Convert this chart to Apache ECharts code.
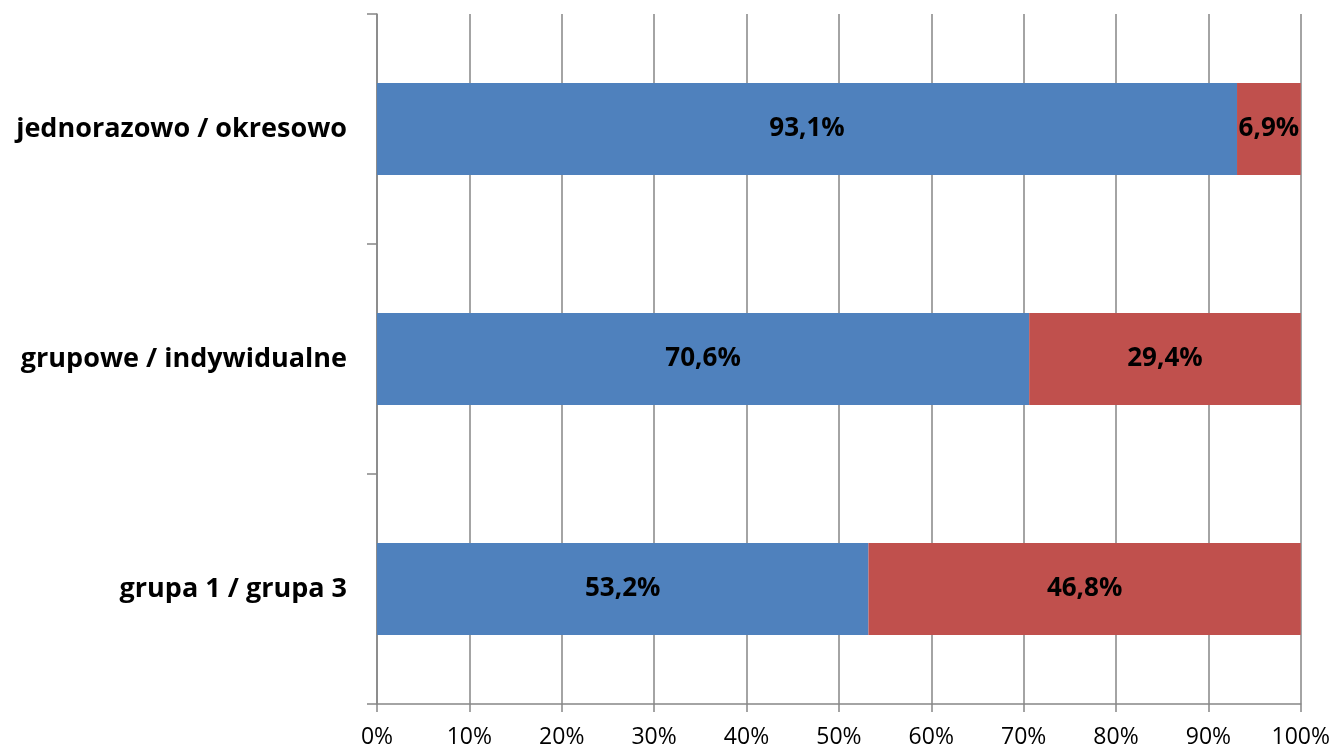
<!DOCTYPE html>
<html>
<head>
<meta charset="utf-8">
<script src="https://cdn.jsdelivr.net/npm/echarts@6/dist/echarts.min.js"></script>
<style>html,body{margin:0;padding:0;background:#fff}#c{width:1333px;height:749px}</style>
</head>
<body>
<div id="c"></div>
<script>
const categories = ['grupa 1 / grupa 3', 'grupowe / indywidualne', 'jednorazowo / okresowo'];
const seriesA = [53.2, 70.6, 93.1];
const seriesB = [46.8, 29.4, 6.9];
const xTicks = [0, 10, 20, 30, 40, 50, 60, 70, 80, 90, 100];

const FONT = '"Open Sans", "Noto Sans", sans-serif';
const chart = echarts.init(document.getElementById('c'));
const labelCfg = {
  show: true,
  position: 'inside',
  color: '#000',
  fontFamily: FONT,
  fontWeight: 'bold',
  fontSize: 26,
  formatter: p => p.value.toFixed(1).replace('.', ',') + '%'
};
chart.setOption({
  animation: false,
  grid: { left: 377, right: 32, top: 14, bottom: 44, containLabel: false },
  xAxis: {
    type: 'value', min: 0, max: 100, interval: 10,
    axisLine: { show: true, lineStyle: { color: '#868686', width: 1.5 } },
    axisTick: { show: true, length: 8, lineStyle: { color: '#868686', width: 1.5 } },
    splitLine: { show: true, lineStyle: { color: '#868686', width: 1.5 } },
    axisLabel: { color: '#000', fontFamily: FONT, fontSize: 23, margin: 22,
      formatter: v => xTicks.includes(v) ? v + '%' : '' }
  },
  yAxis: {
    type: 'category', data: categories,
    axisLine: { show: true, lineStyle: { color: '#868686', width: 1.5 } },
    axisTick: { show: true, length: 10, lineStyle: { color: '#868686', width: 1.5 } },
    axisLabel: { color: '#000', fontFamily: FONT, fontWeight: 'bold', fontSize: 27, margin: 30 }
  },
  series: [
    { type: 'bar', stack: 's', data: seriesA, barCategoryGap: '60%',
      itemStyle: { color: '#4F81BD' }, label: labelCfg },
    { type: 'bar', stack: 's', data: seriesB, barCategoryGap: '60%',
      itemStyle: { color: '#C0504D' }, label: labelCfg }
  ]
});
</script>
</body>
</html>
